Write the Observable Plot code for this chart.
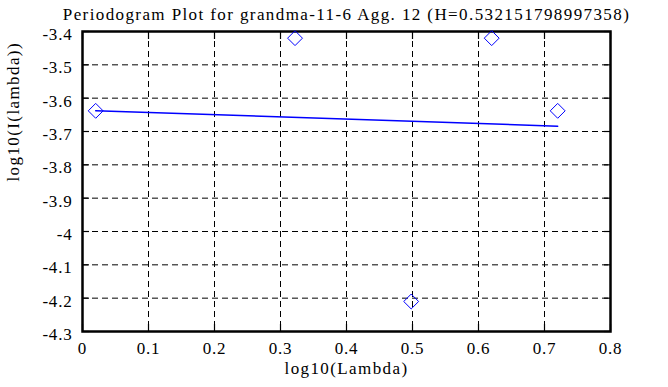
<!DOCTYPE html>
<html><head><meta charset="utf-8">
<script src="https://cdn.jsdelivr.net/npm/d3@7"></script>
<script src="https://cdn.jsdelivr.net/npm/@observablehq/plot@0.6"></script>
<style>
html,body{margin:0;padding:0;background:#fff}
svg{display:block}
svg text{font-family:"Liberation Serif","DejaVu Serif",serif !important}
</style>
</head><body><div id="chart"></div>
<script>
const logLambda = [0.02, 0.322, 0.498, 0.62, 0.72];
const logI = [-3.638, -3.42, -4.21, -3.42, -3.638];
const xTicks = [0, 0.1, 0.2, 0.3, 0.4, 0.5, 0.6, 0.7, 0.8];
const yTicks = [-4.3, -4.2, -4.1, -4, -3.9, -3.8, -3.7, -3.6, -3.5, -3.4];
const title = "Periodogram Plot for grandma-11-6 Agg. 12 (H=0.532151798997358)";
const xLabel = "log10(Lambda)";
const yLabel = "log10(I(lambda))";

const pts = logLambda.map((x, i) => ({x, y: logI[i]}));
const fmt = d => String(d);
const blank = () => "";
const serif = "\"Liberation Serif\", \"DejaVu Serif\", serif";

const chart = Plot.plot({
  width: 668,
  height: 387,
  marginLeft: 82,
  marginRight: 58,
  marginTop: 31,
  marginBottom: 56,
  style: {fontFamily: serif, fontSize: "17px", color: "#000", background: "#fff"},
  x: {domain: [0, 0.8]},
  y: {domain: [-4.3, -3.4]},
  marks: [
    Plot.gridX(xTicks, {stroke: "#000", strokeOpacity: 1, strokeDasharray: "6,4"}),
    Plot.gridY(yTicks, {stroke: "#000", strokeOpacity: 1, strokeDasharray: "6,4"}),
    Plot.axisX(xTicks, {anchor: "bottom", tickSize: 7, dy: -7, tickFormat: blank, label: null, strokeWidth: 1.2}),
    Plot.axisX(xTicks, {anchor: "top", tickSize: 7, dy: 7, tickFormat: blank, label: null, strokeWidth: 1.2}),
    Plot.axisY(yTicks, {anchor: "left", tickSize: 7, dx: 7, tickFormat: blank, label: null, strokeWidth: 1.2}),
    Plot.axisY(yTicks, {anchor: "right", tickSize: 7, dx: -7, tickFormat: blank, label: null, strokeWidth: 1.2}),
    Plot.axisX(xTicks, {anchor: "bottom", tickSize: 0, tickPadding: 10, tickFormat: fmt, label: null, fontSize: 17}),
    Plot.axisY(yTicks, {anchor: "left", tickSize: 0, tickPadding: 10, dy: 3, tickFormat: fmt, label: null, fontSize: 17}),
    Plot.frame({stroke: "#000", strokeWidth: 2.5}),
    Plot.linearRegressionY(pts, {x: "x", y: "y", stroke: "#0000ff", strokeWidth: 1.5, ci: 0}),
    Plot.dot(pts, {x: "x", y: "y", symbol: "diamond2", r: 6.7, stroke: "#0000ff", fill: "none", strokeWidth: 1}),
    Plot.text([title], {frameAnchor: "top", dy: -23.5, fontSize: 17, fill: "#000"}),
    Plot.text([xLabel], {frameAnchor: "bottom", dy: 42, fontSize: 17, fill: "#000"}),
    Plot.text([yLabel], {frameAnchor: "left", dx: -69, rotate: -90, fontSize: 17, fill: "#000"})
  ]
});
chart.querySelectorAll("text").forEach(t => {
  const s = t.textContent;
  t.style.fontFamily = serif;
  t.style.letterSpacing = (s === title || s === xLabel || s === yLabel) ? "1.4px" : "0.8px";
});
document.getElementById("chart").appendChild(chart);
</script>
</body></html>
